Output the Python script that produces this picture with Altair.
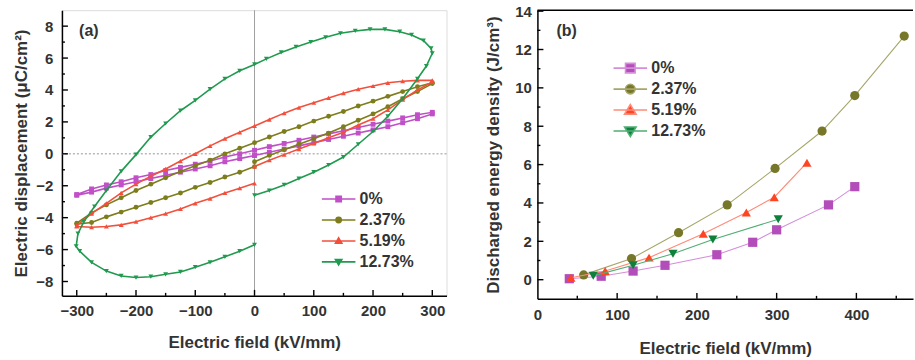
import altair as alt
import pandas as pd

FONT = "Liberation Sans"
SERIES = ["0%", "2.37%", "5.19%", "12.73%"]

# ---------------- (a) D-E loops ----------------
# each loop: rising branch (0 -> +Emax), descending branch (+Emax -> -Emax), return branch (-Emax -> 0)
E_RISE = [0, 25, 50, 75, 100, 125, 150, 175, 200, 225, 250, 275, 300]
E_FALL = [300, 275, 250, 225, 200, 175, 150, 125, 100, 75, 50, 25, 0,
          -25, -50, -75, -100, -125, -150, -175, -200, -225, -250, -275, -300]
E_BACK = [-300, -275, -250, -225, -200, -175, -150, -125, -100, -75, -50, -25, 0]

D0_RISE = [-0.1, 0.1, 0.3, 0.5, 0.7, 0.9, 1.1, 1.3, 1.5, 1.7, 1.95, 2.2, 2.5]
D0_FALL = [2.6, 2.45, 2.25, 2.05, 1.85, 1.65, 1.45, 1.25, 1.05, 0.85, 0.65, 0.45, 0.22,
           0.0, -0.2, -0.45, -0.65, -0.85, -1.05, -1.3, -1.5, -1.75, -1.95, -2.2, -2.55]
D0_BACK = [-2.6, -2.4, -2.15, -1.95, -1.75, -1.55, -1.35, -1.15, -0.95, -0.75, -0.5, -0.3, -0.1]

D2_RISE = [-0.5, -0.1, 0.25, 0.6, 0.95, 1.3, 1.7, 2.1, 2.5, 2.95, 3.45, 3.9, 4.4]
D2_FALL = [4.45, 4.2, 3.9, 3.6, 3.3, 3.0, 2.65, 2.35, 2.05, 1.7, 1.4, 1.05, 0.7,
           0.35, 0.0, -0.4, -0.75, -1.1, -1.5, -1.9, -2.3, -2.75, -3.2, -3.7, -4.35]
D2_BACK = [-4.4, -4.3, -3.95, -3.65, -3.35, -3.05, -2.75, -2.45, -2.1, -1.8, -1.45, -1.15, -0.8]

D5_RISE = [-0.8, -0.4, -0.05, 0.3, 0.65, 1.0, 1.35, 1.8, 2.2, 2.75, 3.4, 4.0, 4.5]
D5_FALL = [4.6, 4.6, 4.55, 4.45, 4.25, 4.05, 3.8, 3.5, 3.2, 2.9, 2.55, 2.15, 1.75,
           1.35, 0.95, 0.5, 0.0, -0.45, -0.95, -1.4, -1.9, -2.45, -3.1, -3.75, -4.5]
D5_BACK = [-4.55, -4.6, -4.55, -4.45, -4.25, -4.0, -3.75, -3.45, -3.1, -2.8, -2.45, -2.15, -1.85]

E12_RISE = [0, 25, 50, 75, 100, 125, 150, 175, 200, 225, 250, 275, 290, 300]
D12_RISE = [-2.6, -2.3, -1.95, -1.55, -1.15, -0.7, -0.2, 0.6, 1.4, 2.35, 3.45, 4.7, 5.5, 6.3]
E12_FALL = [298, 285, 265, 245, 220, 195, 170, 145, 120, 95, 70, 45, 20, 0,
            -25, -50, -75, -100, -125, -150, -175, -200, -225, -250, -270, -288, -298, -301]
D12_FALL = [6.6, 7.1, 7.45, 7.65, 7.8, 7.8, 7.7, 7.55, 7.3, 7.0, 6.7, 6.35, 5.95, 5.6,
            5.2, 4.7, 4.05, 3.35, 2.7, 1.9, 1.05, -0.05, -1.1, -2.3, -3.3, -4.25, -5.0, -5.8]
E12_BACK = [-295, -275, -250, -225, -200, -175, -150, -125, -100, -75, -50, -25, 0]
D12_BACK = [-6.1, -6.8, -7.35, -7.65, -7.75, -7.7, -7.55, -7.4, -7.1, -6.8, -6.45, -6.1, -5.7]

# ---------------- (b) discharged energy density ----------------
B0_E = [40, 80, 120, 160, 225, 270, 300, 365, 398]
B0_U = [0.05, 0.18, 0.45, 0.75, 1.3, 1.95, 2.6, 3.9, 4.85]
B2_E = [58, 118, 177, 238, 298, 357, 398, 460]
B2_U = [0.25, 1.1, 2.45, 3.9, 5.8, 7.75, 9.6, 12.7]
B5_E = [42, 85, 140, 208, 262, 297, 338]
B5_U = [0.1, 0.45, 1.15, 2.4, 3.5, 4.3, 6.1]
B12_E = [70, 120, 170, 220, 302]
B12_U = [0.2, 0.75, 1.35, 2.1, 3.15]

# axis ticks (drawn inward)
A_X_MAJOR = [-300, -200, -100, 0, 100, 200, 300]
A_X_MINOR = [-250, -150, -50, 50, 150, 250]
A_Y_MAJOR = [-8, -6, -4, -2, 0, 2, 4, 6, 8]
A_Y_MINOR = [-7, -5, -3, -1, 1, 3, 5, 7]
B_X_LABELS = [0, 100, 200, 300, 400]
B_X_MAJOR = [100, 200, 300, 400]
B_X_MINOR = [50, 150, 250, 350, 450]
B_Y_MAJOR = [0, 2, 4, 6, 8, 10, 12, 14]
B_Y_MINOR = [1, 3, 5, 7, 9, 11, 13]

A_COLORS = ["#c04fc8", "#7d7d1c", "#f2503c", "#1f9a4e"]
B_MARK = ["#b24db9", "#77772a", "#ff4422", "#0f7f3c"]
B_LINE = ["#d58ddb", "#a6a66a", "#ff8a78", "#4fae74"]
SHAPES = ["square", "circle", "triangle-up", "triangle-down"]


def legend_paths(r, half):
    """Legend glyphs: a short line with the series marker on it."""
    sq = f"M{-r},{-r}H{r}V{r}H{-r}Z"
    ci = f"M{-r},0A{r},{r} 0 1,0 {r},0A{r},{r} 0 1,0 {-r},0Z"
    tu = f"M0,{-r * 1.15}L{r * 1.2},{r * 0.85}L{-r * 1.2},{r * 0.85}Z"
    td = f"M0,{r * 1.15}L{r * 1.2},{-r * 0.85}L{-r * 1.2},{-r * 0.85}Z"
    return [f"M{-half},0H{half}" + p for p in (sq, ci, tu, td)]


def loop_rows(name, branches):
    rows, k = [], 0
    for es, ds in branches:
        for e, d in zip(es, ds):
            rows.append({"series": name, "E": e, "D": d, "k": k})
            k += 1
    return rows


loops = pd.DataFrame(
    loop_rows("0%", [(E_RISE, D0_RISE), (E_FALL, D0_FALL), (E_BACK, D0_BACK)])
    + loop_rows("2.37%", [(E_RISE, D2_RISE), (E_FALL, D2_FALL), (E_BACK, D2_BACK)])
    + loop_rows("5.19%", [(E_RISE, D5_RISE), (E_FALL, D5_FALL), (E_BACK, D5_BACK)])
    + loop_rows("12.73%", [(E12_RISE, D12_RISE), (E12_FALL, D12_FALL), (E12_BACK, D12_BACK)])
)

energy = pd.DataFrame(
    [{"series": "0%", "E": e, "U": u} for e, u in zip(B0_E, B0_U)]
    + [{"series": "2.37%", "E": e, "U": u} for e, u in zip(B2_E, B2_U)]
    + [{"series": "5.19%", "E": e, "U": u} for e, u in zip(B5_E, B5_U)]
    + [{"series": "12.73%", "E": e, "U": u} for e, u in zip(B12_E, B12_U)]
)
one = pd.DataFrame({"z": [0]})

A_W, A_H = 385, 286
B_W, B_H = 376, 289

ax_style = dict(labelFont=FONT, labelFontWeight="bold", labelFontSize=15, labelColor="#333",
                titleFont=FONT, titleFontWeight="bold", titleFontSize=17, titleColor="#333",
                ticks=False, grid=False, domain=True, domainColor="black", domainWidth=1.5,
                labelFlush=False, labelOverlap=False)


class Panel:
    """Shared scales and axes of one panel; every layer gets the same axis spec."""

    def __init__(self, xdom, ydom, xvals, yvals, ytitle, xlp, xtp, ylp, ytp):
        self.xs = alt.Scale(domain=xdom, nice=False, zero=False)
        self.ys = alt.Scale(domain=ydom, nice=False, zero=False)
        self.xa = alt.Axis(values=xvals, title="Electric field (kV/mm)",
                           labelPadding=xlp, titlePadding=xtp, **ax_style)
        self.ya = alt.Axis(values=yvals, title=ytitle, labelPadding=ylp, titlePadding=ytp, **ax_style)

    def x(self, f):
        return alt.X(f, scale=self.xs, axis=self.xa)

    def y(self, f):
        return alt.Y(f, scale=self.ys, axis=self.ya)

    def xd(self, v):
        return alt.XDatum(v, scale=self.xs, axis=self.xa)

    def yd(self, v):
        return alt.YDatum(v, scale=self.ys, axis=self.ya)

    def ticks(self, xs_major, xs_minor, ys_major, ys_minor, h):
        rule = dict(color="black", strokeWidth=1.4)
        return [
            alt.Chart(pd.DataFrame({"v": xs_major})).mark_rule(**rule)
            .encode(x=self.x("v:Q"), y=alt.value(h), y2=alt.value(h - 6)),
            alt.Chart(pd.DataFrame({"v": xs_minor})).mark_rule(**rule)
            .encode(x=self.x("v:Q"), y=alt.value(h), y2=alt.value(h - 3)),
            alt.Chart(pd.DataFrame({"v": ys_major})).mark_rule(**rule)
            .encode(y=self.y("v:Q"), x=alt.value(0), x2=alt.value(6)),
            alt.Chart(pd.DataFrame({"v": ys_minor})).mark_rule(**rule)
            .encode(y=self.y("v:Q"), x=alt.value(0), x2=alt.value(3)),
        ]


def legend(x, y):
    return alt.Legend(title=None, orient="none", legendX=x, legendY=y,
                      symbolSize=256, symbolStrokeWidth=1.6,
                      labelFont=FONT, labelFontWeight="bold", labelFontSize=16,
                      labelColor="#333", labelOffset=12, rowPadding=4, padding=0)


# ---- panel (a)
pa = Panel([-325, 324], [-8.9, 9], A_X_MAJOR, A_Y_MAJOR, "Electric displacement (μC/cm²)", 8, 16, 9, 5)
a_layers = [
    # zero reference lines sit underneath the loops
    alt.Chart(one).mark_rule(color="#b8b8b8", strokeWidth=1.5, strokeDash=[2, 2]).encode(y=pa.y("z:Q")),
    alt.Chart(one).mark_rule(color="#a0a0a0", strokeWidth=1).encode(x=pa.x("z:Q")),
]
for name, col, shp in zip(SERIES, A_COLORS, SHAPES):
    sub = alt.Chart(loops).transform_filter(alt.datum.series == name)
    a_layers.append(sub.mark_line(color=col, strokeWidth=1.6)
                    .encode(x=pa.x("E:Q"), y=pa.y("D:Q"), order="k:Q"))
    a_layers.append(sub.mark_point(shape=shp, filled=True, color=col, size=24, opacity=1)
                    .encode(x=pa.x("E:Q"), y=pa.y("D:Q")))

leg_a = legend(268, 180)
a_layers.append(
    alt.Chart(pd.DataFrame({"series": SERIES}))
    .mark_point(filled=True, clip=True, strokeWidth=1.6, opacity=1)
    .encode(x=pa.xd(1000), y=pa.yd(0),
            fill=alt.Fill("series:N", scale=alt.Scale(domain=SERIES, range=A_COLORS), legend=leg_a),
            stroke=alt.Stroke("series:N", scale=alt.Scale(domain=SERIES, range=A_COLORS), legend=leg_a),
            shape=alt.Shape("series:N", scale=alt.Scale(domain=SERIES, range=legend_paths(0.33, 2.1)),
                            legend=leg_a))
)
a_layers += pa.ticks(A_X_MAJOR, A_X_MINOR, A_Y_MAJOR, A_Y_MINOR, A_H)
a_layers.append(
    alt.Chart(pd.DataFrame({"t": ["(a)"]})).mark_text(
        font=FONT, fontWeight="bold", fontSize=16, color="#333", align="left", baseline="middle")
    .encode(text="t:N", x=pa.xd(-296), y=pa.yd(7.7))
)
panel_a = alt.layer(*a_layers).resolve_scale(fill="independent", stroke="independent",
                                             shape="independent").properties(width=A_W, height=A_H)

# ---- panel (b)
pb = Panel([0, 471], [-1, 14.05], B_X_LABELS, B_Y_MAJOR, "Discharged energy density (J/cm³)", 9, 18, 6, 12)
b_layers = [
    alt.Chart(one).mark_rule(color="black", strokeWidth=1.5).encode(y=pb.yd(14.05)),
]
for name, lc, mc, shp in zip(SERIES, B_LINE, B_MARK, SHAPES):
    sub = alt.Chart(energy).transform_filter(alt.datum.series == name)
    b_layers.append(sub.mark_line(color=lc, strokeWidth=1.1).encode(x=pb.x("E:Q"), y=pb.y("U:Q")))
    b_layers.append(sub.mark_point(shape=shp, filled=True, color=mc, size=85, opacity=1)
                    .encode(x=pb.x("E:Q"), y=pb.y("U:Q")))

leg_b = legend(84, 49)
b_layers.append(
    alt.Chart(pd.DataFrame({"series": SERIES}))
    .mark_point(filled=True, clip=True, strokeWidth=1.2, opacity=1)
    .encode(x=pb.xd(1000), y=pb.yd(0),
            fill=alt.Fill("series:N", scale=alt.Scale(domain=SERIES, range=B_MARK), legend=leg_b),
            stroke=alt.Stroke("series:N", scale=alt.Scale(domain=SERIES, range=B_LINE), legend=leg_b),
            shape=alt.Shape("series:N", scale=alt.Scale(domain=SERIES, range=legend_paths(0.6, 2.1)),
                            legend=leg_b))
)
b_layers += pb.ticks(B_X_MAJOR, B_X_MINOR, B_Y_MAJOR, B_Y_MINOR, B_H)
b_layers.append(
    alt.Chart(pd.DataFrame({"t": ["(b)"]})).mark_text(
        font=FONT, fontWeight="bold", fontSize=16, color="#333", align="left", baseline="middle")
    .encode(text="t:N", x=pb.xd(24), y=pb.yd(12.95))
)
panel_b = alt.layer(*b_layers).resolve_scale(fill="independent", stroke="independent",
                                             shape="independent").properties(
    width=B_W, height=B_H, view=alt.ViewBackground(stroke="transparent"))

chart = (
    alt.hconcat(panel_a, panel_b, spacing=91, bounds="flush")
    .properties(padding={"left": 12, "top": 3, "right": 0, "bottom": 0})
    .configure_view(stroke="black", strokeWidth=1.5)
    .configure(background="white")
)

chart.save("out.html", embed_options={"renderer": "svg", "actions": False})
